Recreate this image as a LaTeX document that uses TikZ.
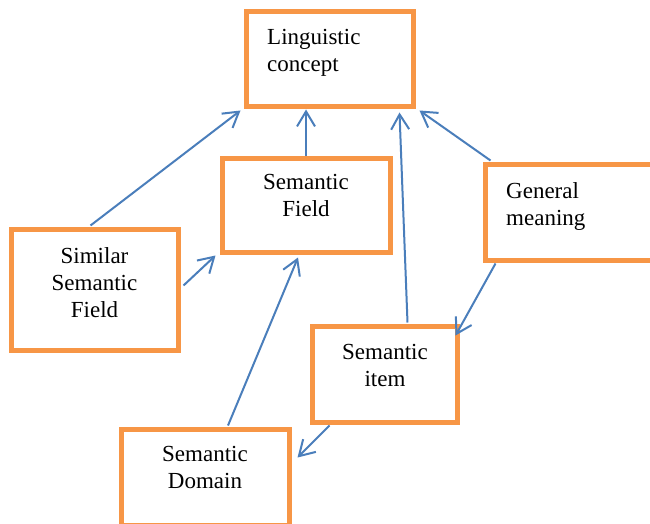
\documentclass[tikz,border=0pt]{standalone}
\usepackage{fontspec}
\setmainfont{Liberation Serif}
\usetikzlibrary{calc}
\usetikzlibrary{arrows.meta}
\definecolor{boxorange}{HTML}{F79646}
\definecolor{linkblue}{HTML}{4A7EBB}
\tikzset{
    box/.style={draw=boxorange,line width=5pt,fill=white,inner sep=0pt},
    lbl/.style={inner sep=0pt,anchor=north,font=\fontsize{23}{27}\selectfont},
    link/.style={draw=linkblue,line width=2pt,-{Straight Barb[length=15pt,width=18pt,line width=2pt]}}
}
\begin{document}
\begin{tikzpicture}[x=1pt,y=-1pt]
\clip (0,0) rectangle (650,524);
\fill[white] (0,0) rectangle (650,524);

%%% BOXES %%%
\node[box,minimum width=167pt,minimum height=95pt] (ling) at (329.5,59.5) {};
\node[box,minimum width=168pt,minimum height=94pt] (field) at (306,205) {};
\node[box,minimum width=170pt,minimum height=96pt] (gen) at (570,212) {};
\node[box,minimum width=167pt,minimum height=121pt] (sim) at (94.5,289.5) {};
\node[box,minimum width=145pt,minimum height=96pt] (item) at (384.5,374) {};
\node[box,minimum width=168pt,minimum height=96pt] (dom) at (205,477) {};

%%% TEXTS %%%
\node[lbl,anchor=north west,align=left] (lingtxt) at (267,29.3) {Linguistic\\concept};
\node[lbl,align=center] (fieldtxt) at (306,174.3) {Semantic\\Field};
\node[lbl,anchor=north west,align=left] (gentxt) at (506,182.3) {General\\meaning};
\node[lbl,align=center] (simtxt) at (94.5,247.3) {Similar\\Semantic\\Field};
\node[lbl,align=center] (itemtxt) at (385,344.3) {Semantic\\item};
\node[lbl,align=center] (domtxt) at (205,446.3) {Semantic\\Domain};

%%% ARROWS %%%
% towards the concept
\draw[link] ($(sim.north)+(-4,-1)$) -- ($(ling.south west)+(-3,1)$);
\draw[link] (field.north) -- (field.north |- ling.south);
\draw[link] ($(item.north)+(23,-1)$) -- ($(ling.south east)+(-16,3)$);
\draw[link] ($(gen.north west)+(8,-1)$) -- ($(ling.south east)+(4,1)$);
% towards the field
\draw[link] ($(sim.east)+(3,-4)$) -- ($(field.south west)+(-4,1)$);
\draw[link] ($(dom.north)+(23,-1)$) -- ($(field.south)+(-8,3)$);
% item and domain
\draw[link] ($(gen.south west)+(13,1)$) -- ($(item.north east)+(-4,12)$);
\draw[link] ($(item.south west)+(20,1)$) -- ($(dom.north east)+(6,31)$);
\end{tikzpicture}
\end{document}
